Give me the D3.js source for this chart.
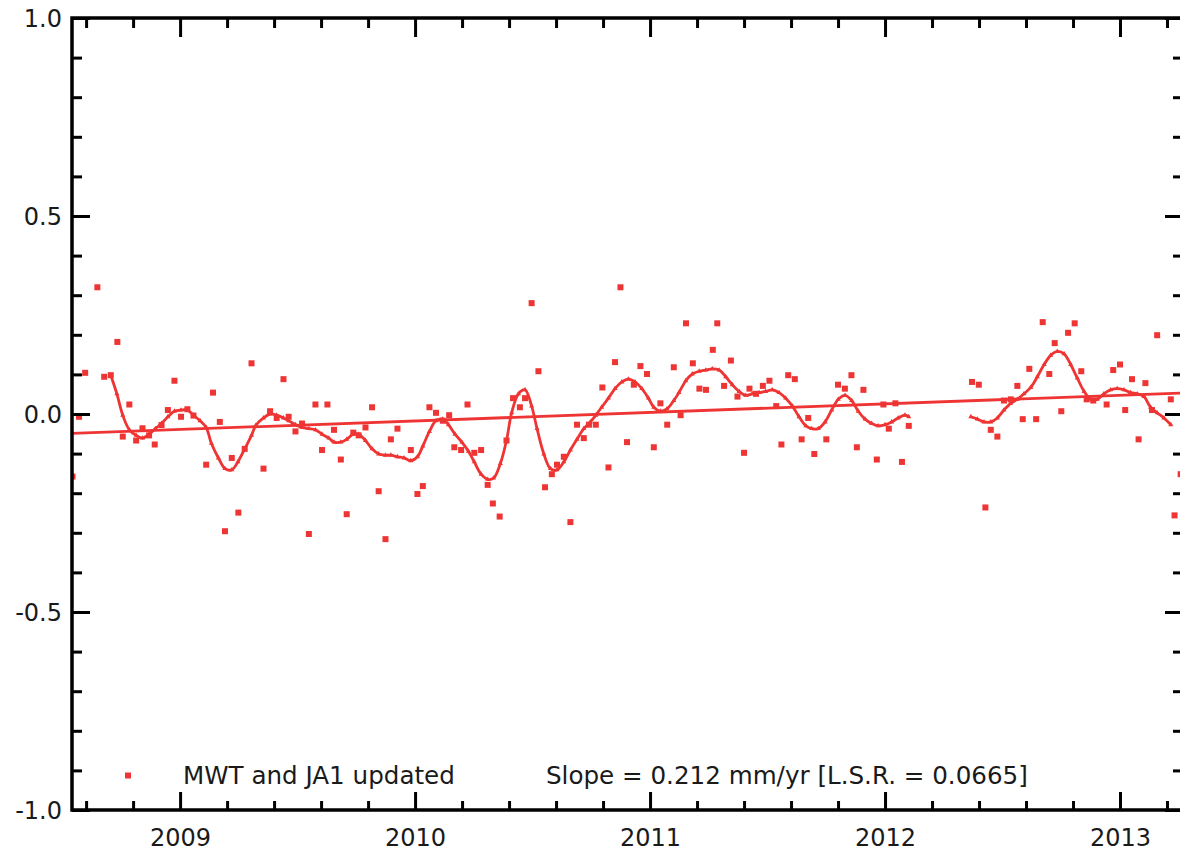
<!DOCTYPE html>
<html>
<head>
<meta charset="utf-8">
<script src="https://cdn.jsdelivr.net/npm/d3@7"></script>
<style>
  html, body { margin: 0; padding: 0; background: #fff; }
  svg { display: block; }
  text { font-family: "DejaVu Sans", sans-serif; fill: #1a1a1a; }
</style>
</head>
<body>
<svg id="chart" width="1180" height="851"></svg>
<script>
// ---- data (decimal year, value) ----
const seriesName = "MWT and JA1 updated";
const slopeLabel = "Slope = 0.212 mm/yr [L.S.R. = 0.0665]";

const scatterPoints = [
  [2008.542,-0.158],[2008.570,-0.007],[2008.596,0.104],[2008.648,0.320],[2008.677,0.094],
  [2008.705,0.098],[2008.733,0.182],[2008.756,-0.057],[2008.784,0.024],[2008.813,-0.067],
  [2008.840,-0.036],[2008.868,-0.054],[2008.892,-0.077],[2008.921,-0.028],[2008.948,0.010],
  [2008.976,0.084],[2009.004,-0.007],[2009.031,0.012],[2009.057,-0.004],[2009.111,-0.128],
  [2009.140,0.054],[2009.169,-0.020],[2009.191,-0.296],[2009.220,-0.111],[2009.248,-0.249],
  [2009.275,-0.088],[2009.304,0.128],[2009.355,-0.138],[2009.383,0.007],[2009.411,-0.010],
  [2009.440,0.088],[2009.462,-0.007],[2009.491,-0.044],[2009.519,-0.024],[2009.548,-0.303],
  [2009.576,0.024],[2009.604,-0.091],[2009.627,0.024],[2009.655,-0.040],[2009.684,-0.115],
  [2009.709,-0.253],[2009.737,-0.047],[2009.760,-0.054],[2009.789,-0.034],[2009.817,0.017],
  [2009.845,-0.195],[2009.874,-0.316],[2009.897,-0.064],[2009.925,-0.037],[2009.982,-0.091],
  [2010.010,-0.202],[2010.033,-0.182],[2010.061,0.017],[2010.089,0.003],[2010.118,-0.017],
  [2010.145,-0.003],[2010.167,-0.084],[2010.196,-0.091],[2010.223,0.024],[2010.252,-0.098],
  [2010.281,-0.091],[2010.309,-0.179],[2010.331,-0.226],[2010.360,-0.259],[2010.389,-0.067],
  [2010.417,0.040],[2010.446,0.017],[2010.468,0.040],[2010.496,0.280],[2010.525,0.108],
  [2010.553,-0.185],[2010.582,-0.152],[2010.604,-0.128],[2010.633,-0.108],[2010.661,-0.273],
  [2010.689,-0.027],[2010.718,-0.061],[2010.740,-0.027],[2010.769,-0.027],[2010.797,0.067],
  [2010.823,-0.135],[2010.851,0.131],[2010.874,0.320],[2010.902,-0.071],[2010.931,0.074],
  [2010.959,0.121],[2010.987,0.101],[2011.016,-0.084],[2011.044,0.027],[2011.073,-0.027],
  [2011.101,0.118],[2011.130,-0.003],[2011.153,0.229],[2011.182,0.128],[2011.210,0.064],
  [2011.238,0.061],[2011.267,0.162],[2011.286,0.229],[2011.315,0.071],[2011.344,0.135],
  [2011.372,0.044],[2011.400,-0.098],[2011.423,0.064],[2011.451,0.051],[2011.480,0.071],
  [2011.508,0.084],[2011.537,0.020],[2011.559,-0.077],[2011.588,0.098],[2011.616,0.088],
  [2011.645,-0.064],[2011.673,-0.010],[2011.699,-0.101],[2011.750,-0.064],[2011.800,0.074],
  [2011.829,0.064],[2011.857,0.098],[2011.880,-0.084],[2011.908,0.061],[2011.965,-0.115],
  [2011.993,0.024],[2012.016,-0.037],[2012.044,0.027],[2012.072,-0.121],[2012.101,-0.030],
  [2012.370,0.081],[2012.399,0.074],[2012.427,-0.236],[2012.450,-0.040],[2012.478,-0.057],
  [2012.506,0.034],[2012.535,0.037],[2012.563,0.071],[2012.586,-0.013],[2012.614,0.114],
  [2012.643,-0.013],[2012.671,0.232],[2012.699,0.101],[2012.722,0.179],[2012.750,0.007],
  [2012.779,0.205],[2012.807,0.229],[2012.835,0.108],[2012.858,0.037],[2012.886,0.034],
  [2012.943,0.024],[2012.971,0.111],[2013.000,0.125],[2013.022,0.010],[2013.051,0.088],
  [2013.079,-0.064],[2013.108,0.078],[2013.136,0.010],[2013.158,0.199],[2013.216,0.037],
  [2013.232,-0.256],[2013.258,-0.152]
];

const smoothSegment1 = [
  [2008.705,0.098],[2008.731,0.051],[2008.756,-0.003],[2008.784,-0.040],[2008.813,-0.054],
  [2008.840,-0.061],[2008.868,-0.051],[2008.895,-0.037],[2008.921,-0.024],[2008.948,-0.007],
  [2008.976,0.007],[2009.004,0.010],[2009.031,0.010],[2009.057,-0.003],[2009.085,-0.017],
  [2009.111,-0.034],[2009.133,-0.074],[2009.163,-0.111],[2009.191,-0.138],[2009.220,-0.141],
  [2009.246,-0.121],[2009.275,-0.088],[2009.304,-0.054],[2009.322,-0.029],[2009.355,-0.010],
  [2009.383,0.000],[2009.411,-0.003],[2009.440,-0.010],[2009.462,-0.017],[2009.491,-0.027],
  [2009.519,-0.034],[2009.548,-0.037],[2009.576,-0.040],[2009.604,-0.051],[2009.633,-0.061],
  [2009.655,-0.071],[2009.684,-0.071],[2009.709,-0.064],[2009.737,-0.051],[2009.760,-0.051],
  [2009.789,-0.067],[2009.817,-0.088],[2009.845,-0.101],[2009.874,-0.104],[2009.897,-0.104],
  [2009.925,-0.108],[2009.953,-0.111],[2009.982,-0.118],[2010.010,-0.108],[2010.033,-0.081],
  [2010.061,-0.044],[2010.089,-0.017],[2010.118,-0.013],[2010.142,-0.027],[2010.170,-0.051],
  [2010.199,-0.071],[2010.227,-0.094],[2010.252,-0.121],[2010.281,-0.152],[2010.309,-0.165],
  [2010.334,-0.162],[2010.363,-0.125],[2010.389,-0.067],[2010.411,0.003],[2010.440,0.051],
  [2010.468,0.061],[2010.496,0.020],[2010.519,-0.037],[2010.548,-0.101],[2010.576,-0.138],
  [2010.604,-0.141],[2010.633,-0.121],[2010.661,-0.091],[2010.689,-0.064],[2010.718,-0.037],
  [2010.746,-0.020],[2010.769,-0.003],[2010.794,0.017],[2010.823,0.040],[2010.851,0.064],
  [2010.880,0.081],[2010.908,0.088],[2010.936,0.081],[2010.965,0.064],[2010.993,0.040],
  [2011.016,0.017],[2011.044,0.007],[2011.072,0.013],[2011.101,0.034],[2011.123,0.054],
  [2011.152,0.084],[2011.180,0.101],[2011.209,0.108],[2011.237,0.111],[2011.265,0.114],
  [2011.294,0.111],[2011.322,0.094],[2011.350,0.074],[2011.379,0.057],[2011.407,0.047],
  [2011.435,0.051],[2011.464,0.054],[2011.492,0.057],[2011.520,0.061],[2011.549,0.054],
  [2011.577,0.040],[2011.606,0.020],[2011.634,-0.007],[2011.663,-0.030],[2011.688,-0.037],
  [2011.716,-0.037],[2011.745,-0.020],[2011.773,0.010],[2011.801,0.037],[2011.830,0.047],
  [2011.858,0.034],[2011.886,0.007],[2011.915,-0.013],[2011.943,-0.024],[2011.971,-0.030],
  [2012.000,-0.027],[2012.028,-0.020],[2012.056,-0.010],[2012.085,-0.003],[2012.101,-0.007]
];

const smoothSegment2 = [
  [2012.365,-0.007],[2012.393,-0.013],[2012.421,-0.020],[2012.450,-0.020],[2012.478,-0.010],
  [2012.506,0.010],[2012.535,0.027],[2012.563,0.037],[2012.591,0.051],[2012.620,0.067],
  [2012.648,0.094],[2012.677,0.125],[2012.705,0.148],[2012.733,0.158],[2012.762,0.152],
  [2012.790,0.125],[2012.818,0.091],[2012.847,0.057],[2012.875,0.037],[2012.903,0.037],
  [2012.931,0.051],[2012.960,0.061],[2012.988,0.064],[2013.017,0.061],[2013.045,0.054],
  [2013.073,0.051],[2013.102,0.044],[2013.130,0.017],[2013.158,0.003],[2013.187,-0.010],
  [2013.216,-0.027]
];

const trendLine = [[2008.54,-0.049],[2013.268,0.053]];

const xMajorTicks = [2009, 2010, 2011, 2012, 2013];
const xMinorTicks = [2008.6,2008.8,2009.2,2009.4,2009.6,2009.8,2010.2,2010.4,2010.6,2010.8,
                     2011.2,2011.4,2011.6,2011.8,2012.2,2012.4,2012.6,2012.8,2013.2];
const yMajorTicks = [-1.0, -0.5, 0.0, 0.5, 1.0];
const yMinorTicks = [-0.9,-0.8,-0.7,-0.6,-0.4,-0.3,-0.2,-0.1,0.1,0.2,0.3,0.4,0.6,0.7,0.8,0.9];

// ---- drawing ----
const RED = "#ef3434";
const plot = { left: 72, top: 18, right: 1183, bottom: 810 };

const svg = d3.select("#chart");
const x = d3.scaleLinear().domain([2008.54, 2013.268]).range([plot.left, plot.right]);
const y = d3.scaleLinear().domain([-1, 1]).range([plot.bottom, plot.top]);

svg.append("defs").append("clipPath").attr("id", "clip")
  .append("rect")
  .attr("x", plot.left).attr("y", plot.top)
  .attr("width", plot.right - plot.left).attr("height", plot.bottom - plot.top);

const data = svg.append("g").attr("clip-path", "url(#clip)");

// trend line
data.append("path")
  .datum(trendLine)
  .attr("d", d3.line().x(d => x(d[0])).y(d => y(d[1])))
  .attr("fill", "none").attr("stroke", RED).attr("stroke-width", 2.8);

// smooth curve segments
const smoothLine = d3.line().x(d => x(d[0])).y(d => y(d[1])).curve(d3.curveCatmullRom);
[smoothSegment1, smoothSegment2].forEach(seg => {
  data.append("path").datum(seg)
    .attr("d", smoothLine)
    .attr("fill", "none").attr("stroke", RED).attr("stroke-width", 2.8)
    .attr("stroke-linejoin", "round");
  data.append("g").selectAll("path").data(seg).join("path")
    .attr("transform", d => `translate(${x(d[0])},${y(d[1])})`)
    .attr("d", d3.symbol(d3.symbolTriangle, 11))
    .attr("fill", RED);
});

// scatter squares
data.append("g").selectAll("rect").data(scatterPoints).join("rect")
  .attr("x", d => x(d[0]) - 3).attr("y", d => y(d[1]) - 3)
  .attr("width", 6).attr("height", 6)
  .attr("fill", RED);

// axes (ticks inward)
const axisColor = "#000";
function styleAxis(g) {
  g.select(".domain").remove();
  g.selectAll(".tick line").attr("stroke", axisColor).attr("stroke-width", 3);
}
// bottom
svg.append("g").attr("transform", `translate(0,${plot.bottom})`)
  .call(d3.axisBottom(x).tickValues(xMinorTicks).tickSize(-9).tickFormat(""))
  .call(styleAxis);
const bottomMajor = svg.append("g").attr("transform", `translate(0,${plot.bottom})`)
  .call(d3.axisBottom(x).tickValues(xMajorTicks).tickSizeInner(-18).tickSizeOuter(0)
        .tickFormat(d3.format("d")).tickPadding(0))
  .call(styleAxis);
bottomMajor.selectAll(".tick text")
  .attr("y", 36).attr("dy", 0)
  .style("font-size", "24px").style("font-family", "DejaVu Sans, sans-serif").attr("fill", "#1a1a1a");
// top
svg.append("g").attr("transform", `translate(0,${plot.top})`)
  .call(d3.axisTop(x).tickValues(xMinorTicks).tickSize(-10).tickFormat(""))
  .call(styleAxis);
svg.append("g").attr("transform", `translate(0,${plot.top})`)
  .call(d3.axisTop(x).tickValues(xMajorTicks).tickSize(-19).tickFormat(""))
  .call(styleAxis);
// left
svg.append("g").attr("transform", `translate(${plot.left},0)`)
  .call(d3.axisLeft(y).tickValues(yMinorTicks).tickSize(-10).tickFormat(""))
  .call(styleAxis);
const fmtY = v => (v < 0 ? "-" : "") + Math.abs(v).toFixed(1);
const leftMajor = svg.append("g").attr("transform", `translate(${plot.left},0)`)
  .call(d3.axisLeft(y).tickValues(yMajorTicks).tickSize(-18).tickFormat(fmtY))
  .call(styleAxis);
leftMajor.selectAll(".tick text")
  .attr("x", -10).attr("dy", "0.36em")
  .style("font-size", "24px").style("font-family", "DejaVu Sans, sans-serif").attr("fill", "#1a1a1a");
// right
svg.append("g").attr("transform", `translate(${plot.right},0)`)
  .call(d3.axisRight(y).tickValues(yMinorTicks).tickSize(-10).tickFormat(""))
  .call(styleAxis);
svg.append("g").attr("transform", `translate(${plot.right},0)`)
  .call(d3.axisRight(y).tickValues(yMajorTicks).tickSize(-18).tickFormat(""))
  .call(styleAxis);

// frame
svg.append("rect")
  .attr("x", plot.left).attr("y", plot.top)
  .attr("width", plot.right - plot.left).attr("height", plot.bottom - plot.top)
  .attr("fill", "none").attr("stroke", axisColor).attr("stroke-width", 3.5);

// legend
svg.append("rect").attr("x", 125).attr("y", 772.5).attr("width", 6).attr("height", 6).attr("fill", RED);
svg.append("text").attr("x", 183).attr("y", 784).style("font-size", "24.6px").text(seriesName);
svg.append("text").attr("x", 546).attr("y", 784).style("font-size", "24.6px").text(slopeLabel);
</script>
</body>
</html>
